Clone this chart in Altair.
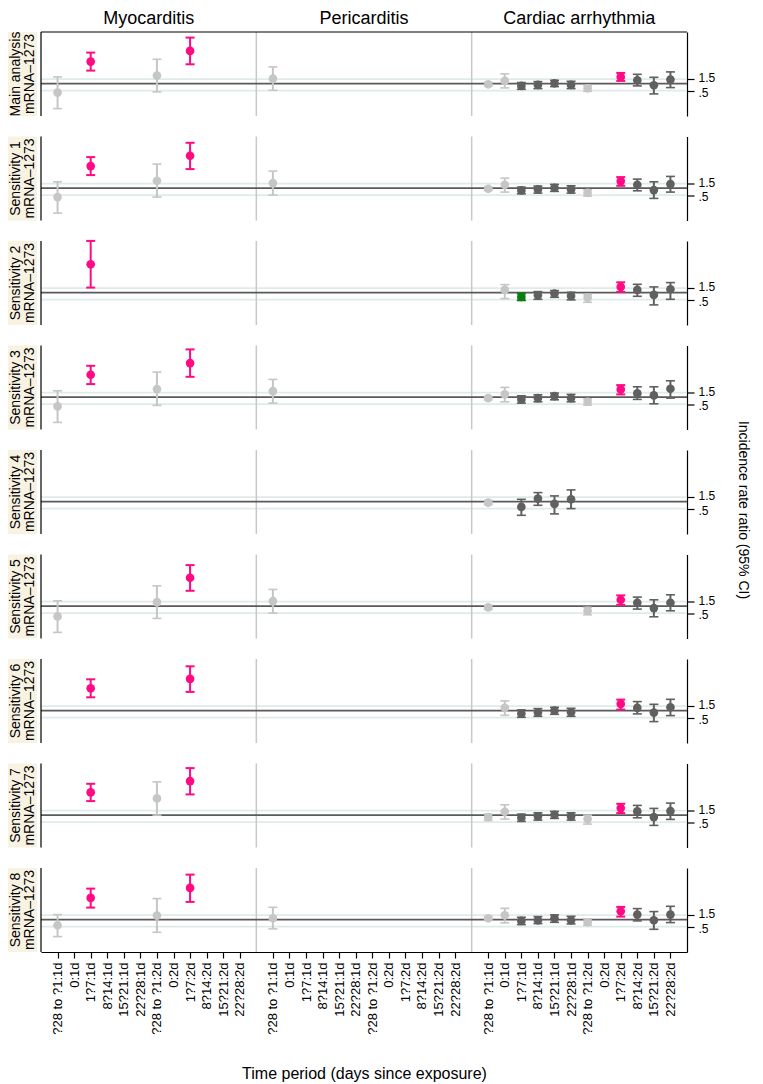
import altair as alt
import pandas as pd

FONT = "Liberation Sans"

ROW_LABELS = ["Main analysis", "Sensitivity 1", "Sensitivity 2", "Sensitivity 3",
              "Sensitivity 4", "Sensitivity 5", "Sensitivity 6", "Sensitivity 7",
              "Sensitivity 8"]
VACCINE = "mRNA\u20131273"
OUTCOMES = ["Myocarditis", "Pericarditis", "Cardiac arrhythmia"]
PERIODS = ["?28 to ?1:1d", "0:1d", "1?7:1d", "8?14:1d", "15?21:1d", "22?28:1d",
           "?28 to ?1:2d", "0:2d", "1?7:2d", "8?14:2d", "15?21:2d", "22?28:2d"]

# y values are on the chart's (log) incidence-rate-ratio axis
TICK_VALUES = [0.45, -0.7]
TICK_TEXT = ["1.5", ".5"]
REF_VALUE = 0.0
Y_DOMAIN = [-3.24, 5.16]

KINDS = ["pink", "green", "dark", "light"]
KIND_COLORS = ["#ff0a84", "#0b7d0b", "#606060", "#c6c6c6"]
KIND_SIZES = [75, 75, 24, 16]
KIND_WIDTHS = [2.0, 2.0, 1.6, 1.6]

# (outcome index, period 1-12, estimate, lower CI, upper CI, kind)
MAIN = [
    (0, 1, -0.90, -2.50, 0.67, "light"), (0, 3, 2.20, 1.30, 3.10, "pink"),
    (0, 7, 0.80, -0.83, 2.43, "light"), (0, 9, 3.27, 1.93, 4.60, "pink"),
    (1, 1, 0.50, -0.67, 1.67, "light"),
    (2, 1, -0.07, -0.23, 0.10, "light"), (2, 2, 0.27, -0.43, 0.97, "light"),
    (2, 3, -0.23, -0.57, 0.10, "dark"), (2, 4, -0.13, -0.50, 0.20, "dark"),
    (2, 5, 0.03, -0.30, 0.33, "dark"), (2, 6, -0.13, -0.50, 0.23, "dark"),
    (2, 7, -0.47, -0.77, -0.20, "light"), (2, 9, 0.67, 0.27, 1.07, "pink"),
    (2, 10, 0.33, -0.23, 0.93, "dark"), (2, 11, -0.17, -1.03, 0.63, "dark"),
    (2, 12, 0.40, -0.40, 1.17, "dark"),
]
SENS1 = [
    (0, 1, -0.90, -2.50, 0.63, "light"), (0, 3, 2.20, 1.30, 3.10, "pink"),
    (0, 7, 0.73, -0.90, 2.40, "light"), (0, 9, 3.23, 1.90, 4.53, "pink"),
    (1, 1, 0.50, -0.70, 1.70, "light"),
    (2, 1, -0.07, -0.23, 0.10, "light"), (2, 2, 0.33, -0.40, 1.00, "light"),
    (2, 3, -0.23, -0.57, 0.10, "dark"), (2, 4, -0.13, -0.50, 0.20, "dark"),
    (2, 5, 0.03, -0.33, 0.37, "dark"), (2, 6, -0.13, -0.50, 0.23, "dark"),
    (2, 7, -0.47, -0.80, -0.17, "light"), (2, 9, 0.70, 0.23, 1.10, "pink"),
    (2, 10, 0.33, -0.27, 0.90, "dark"), (2, 11, -0.20, -1.03, 0.63, "dark"),
    (2, 12, 0.40, -0.40, 1.17, "dark"),
]
SENS2 = [
    (0, 3, 2.83, 0.50, 5.17, "pink"),
    (2, 2, 0.27, -0.60, 0.80, "light"), (2, 3, -0.43, -0.77, -0.10, "green"),
    (2, 4, -0.27, -0.67, 0.10, "dark"), (2, 5, -0.10, -0.47, 0.20, "dark"),
    (2, 6, -0.33, -0.73, 0.03, "dark"), (2, 7, -0.50, -0.97, -0.20, "light"),
    (2, 9, 0.57, 0.07, 1.03, "pink"), (2, 10, 0.27, -0.37, 0.83, "dark"),
    (2, 11, -0.23, -1.23, 0.57, "dark"), (2, 12, 0.33, -0.67, 1.00, "dark"),
]
SENS3 = [
    (0, 1, -0.93, -2.53, 0.63, "light"), (0, 3, 2.23, 1.30, 3.13, "pink"),
    (0, 7, 0.80, -0.83, 2.50, "light"), (0, 9, 3.40, 2.03, 4.77, "pink"),
    (1, 1, 0.60, -0.60, 1.77, "light"),
    (2, 1, -0.10, -0.27, 0.07, "light"), (2, 2, 0.27, -0.47, 0.97, "light"),
    (2, 3, -0.23, -0.60, 0.13, "dark"), (2, 4, -0.10, -0.47, 0.23, "dark"),
    (2, 5, 0.10, -0.27, 0.40, "dark"), (2, 6, -0.10, -0.47, 0.27, "dark"),
    (2, 7, -0.47, -0.80, -0.17, "light"), (2, 9, 0.77, 0.27, 1.20, "pink"),
    (2, 10, 0.37, -0.23, 1.03, "dark"), (2, 11, 0.17, -0.67, 1.03, "dark"),
    (2, 12, 0.83, -0.10, 1.63, "dark"),
]
SENS4 = [
    (2, 1, -0.10, -0.30, 0.10, "light"), (2, 3, -0.53, -1.37, 0.23, "dark"),
    (2, 4, 0.30, -0.37, 0.90, "dark"), (2, 5, -0.23, -1.23, 0.57, "dark"),
    (2, 6, 0.23, -0.70, 1.17, "dark"),
]
SENS5 = [
    (0, 1, -1.03, -2.63, 0.53, "light"), (0, 7, 0.40, -1.23, 2.03, "light"),
    (0, 9, 2.83, 1.53, 4.10, "pink"),
    (1, 1, 0.50, -0.70, 1.67, "light"),
    (2, 1, -0.13, -0.33, 0.07, "light"), (2, 7, -0.47, -0.87, -0.13, "light"),
    (2, 9, 0.63, 0.13, 1.07, "pink"), (2, 10, 0.33, -0.30, 0.90, "dark"),
    (2, 11, -0.20, -1.07, 0.63, "dark"), (2, 12, 0.33, -0.47, 1.13, "dark"),
]
SENS6 = [
    (0, 3, 2.23, 1.33, 3.13, "pink"), (0, 9, 3.17, 1.87, 4.43, "pink"),
    (2, 2, 0.27, -0.47, 0.97, "light"), (2, 3, -0.30, -0.67, 0.07, "dark"),
    (2, 4, -0.20, -0.57, 0.20, "dark"), (2, 5, 0.00, -0.37, 0.33, "dark"),
    (2, 6, -0.17, -0.57, 0.23, "dark"), (2, 9, 0.67, 0.10, 1.10, "pink"),
    (2, 10, 0.27, -0.33, 0.90, "dark"), (2, 11, -0.20, -1.10, 0.63, "dark"),
    (2, 12, 0.33, -0.50, 1.13, "dark"),
]
SENS7 = [
    (0, 3, 2.27, 1.40, 3.13, "pink"), (0, 7, 1.67, 0.00, 3.33, "light"),
    (0, 9, 3.40, 2.07, 4.70, "pink"),
    (2, 1, -0.20, -0.53, 0.10, "light"), (2, 2, 0.33, -0.40, 1.03, "light"),
    (2, 3, -0.27, -0.63, 0.10, "dark"), (2, 4, -0.13, -0.50, 0.23, "dark"),
    (2, 5, 0.03, -0.33, 0.37, "dark"), (2, 6, -0.13, -0.50, 0.23, "dark"),
    (2, 7, -0.40, -0.90, 0.00, "light"), (2, 9, 0.70, 0.20, 1.13, "pink"),
    (2, 10, 0.37, -0.27, 0.97, "dark"), (2, 11, -0.20, -1.03, 0.67, "dark"),
    (2, 12, 0.40, -0.43, 1.20, "dark"),
]
SENS8 = [
    (0, 1, -0.57, -1.70, 0.50, "light"), (0, 3, 2.17, 1.20, 3.10, "pink"),
    (0, 7, 0.40, -1.27, 2.10, "light"), (0, 9, 3.17, 1.77, 4.50, "pink"),
    (1, 1, 0.13, -0.93, 1.23, "light"),
    (2, 1, 0.13, -0.03, 0.30, "light"), (2, 2, 0.43, -0.33, 1.13, "light"),
    (2, 3, -0.13, -0.50, 0.23, "dark"), (2, 4, -0.07, -0.40, 0.30, "dark"),
    (2, 5, 0.13, -0.27, 0.47, "dark"), (2, 6, -0.07, -0.43, 0.33, "dark"),
    (2, 7, -0.27, -0.57, 0.07, "light"), (2, 9, 0.83, 0.30, 1.27, "pink"),
    (2, 10, 0.50, -0.13, 1.10, "dark"), (2, 11, -0.07, -0.97, 0.80, "dark"),
    (2, 12, 0.50, -0.30, 1.33, "dark"),
]
ROW_DATA = [MAIN, SENS1, SENS2, SENS3, SENS4, SENS5, SENS6, SENS7, SENS8]

W, H = 646, 84
NSLOT = len(PERIODS) + 1
xscale = alt.Scale(domain=[0, NSLOT * len(OUTCOMES)], nice=False, zero=False)
yscale = alt.Scale(domain=Y_DOMAIN, nice=False, zero=False)

tick_positions = [o * NSLOT + p + 1 for o in range(len(OUTCOMES)) for p in range(len(PERIODS))]
label_array = "[" + ",".join("'" + p + "'" for p in PERIODS) + "]"

bottom_axis = alt.Axis(
    values=tick_positions, labelExpr=label_array + f"[(datum.value % {NSLOT}) - 1]",
    labelAngle=-90, labelFont=FONT, labelFontSize=13, labelColor="black",
    labelOverlap=False, labelFlush=False, labelPadding=4,
    tickColor="black", tickSize=6, tickWidth=1.2, domainColor="black", domainWidth=1.2,
    grid=False, title="Time period (days since exposure)", titleFont=FONT,
    titleFontSize=16, titleFontWeight="normal", titleColor="black", titlePadding=31,
)
right_axis = alt.Axis(
    orient="right", values=TICK_VALUES,
    labelExpr=f"datum.value > 0 ? '{TICK_TEXT[0]}' : '{TICK_TEXT[1]}'",
    labelFont=FONT, labelFontSize=12, labelColor="black", labelPadding=4,
    labelOffset={"condition": {"test": "datum.value > 0", "value": -1.5}, "value": 1.5},
    tickColor="black", tickSize=7, tickWidth=1.2, domainColor="black", domainWidth=1.2,
    grid=False, title=None,
)

color_enc = alt.Color("kind:N", scale=alt.Scale(domain=KINDS, range=KIND_COLORS), legend=None)
size_enc = alt.Size("kind:N", scale=alt.Scale(domain=KINDS, range=KIND_SIZES), legend=None)
sw_enc = alt.StrokeWidth("kind:N", scale=alt.Scale(domain=KINDS, range=KIND_WIDTHS), legend=None)


def row_chart(i):
    df = pd.DataFrame(ROW_DATA[i], columns=["outcome", "period", "est", "lo", "hi", "kind"])
    df["x"] = df["outcome"] * NSLOT + df["period"]
    last = i == len(ROW_DATA) - 1
    xa = bottom_axis if last else None

    def X(field):
        return alt.X(f"{field}:Q", scale=xscale, axis=xa)

    def Y(field):
        return alt.Y(f"{field}:Q", scale=yscale, axis=right_axis)

    layers = []
    # light gridlines at the tick values
    layers.append(alt.Chart(pd.DataFrame({"v": TICK_VALUES})).mark_rule(
        color="#dfeaea", strokeWidth=1.6).encode(y=Y("v")))
    # column separators
    layers.append(alt.Chart(pd.DataFrame({"s": [NSLOT, 2 * NSLOT]})).mark_rule(
        color="#c8c8c8", strokeWidth=1.5).encode(x=X("s")))
    # reference line
    layers.append(alt.Chart(pd.DataFrame({"v": [REF_VALUE]})).mark_rule(
        color="#5a5a5a", strokeWidth=1.8).encode(y=Y("v")))
    # left frame line
    layers.append(alt.Chart(pd.DataFrame({"a": [0]})).mark_rule(
        color="black", strokeWidth=1.2).encode(x=alt.value(0)))
    if i == 0:
        layers.append(alt.Chart(pd.DataFrame({"a": [0]})).mark_rule(
            color="black", strokeWidth=1.2).encode(y=alt.value(0)))

    base = alt.Chart(df)
    layers.append(base.mark_rule().encode(
        x=X("x"), y=Y("lo"), y2="hi:Q", color=color_enc, strokeWidth=sw_enc))
    for field in ["lo", "hi"]:
        for kinds, thick in [(["pink", "green"], 2.0), (["dark", "light"], 1.6)]:
            layers.append(base.transform_filter(
                alt.FieldOneOfPredicate(field="kind", oneOf=kinds)).mark_tick(
                orient="horizontal", size=9, thickness=thick, opacity=1).encode(
                x=X("x"), y=Y(field), color=color_enc))
    layers.append(base.mark_circle(opacity=1).encode(
        x=X("x"), y=Y("est"), color=color_enc, size=size_enc))

    # row label with beige background
    layers.append(alt.Chart(pd.DataFrame({"a": [0]})).mark_rect(color="#f8f2e3").encode(
        x=alt.value(-33), x2=alt.value(-4), y=alt.value(0), y2=alt.value(H)))
    for txt, xpos in [(ROW_LABELS[i], -25), (VACCINE, -11.5)]:
        layers.append(alt.Chart(pd.DataFrame({"t": [txt]})).mark_text(
            angle=270, font=FONT, fontSize=14, color="black", align="center",
            baseline="middle").encode(x=alt.value(xpos), y=alt.value(H / 2), text="t:N"))

    if i == 0:
        tdf = pd.DataFrame({"x": [o * NSLOT + NSLOT / 2 for o in range(len(OUTCOMES))],
                            "t": OUTCOMES})
        layers.append(alt.Chart(tdf).mark_text(
            font=FONT, fontSize=18, color="black", baseline="middle").encode(
            x=X("x"), y=alt.value(-13), text="t:N"))
    if i == 4:
        layers.append(alt.Chart(pd.DataFrame({"t": ["Incidence rate ratio (95% CI)"]})).mark_text(
            angle=90, font=FONT, fontSize=14, color="black", align="center",
            baseline="middle").encode(x=alt.value(W + 56), y=alt.value(60), text="t:N"))

    return alt.layer(*layers).properties(width=W, height=H)


rows = [row_chart(i) for i in range(len(ROW_DATA))]
chart = alt.vconcat(*rows, spacing=20.5, bounds="flush").properties(
    padding={"left": 0, "top": 2, "right": 3, "bottom": 0}
).configure_view(stroke=None)

chart.save("out.html", embed_options={"renderer": "svg", "actions": False})
